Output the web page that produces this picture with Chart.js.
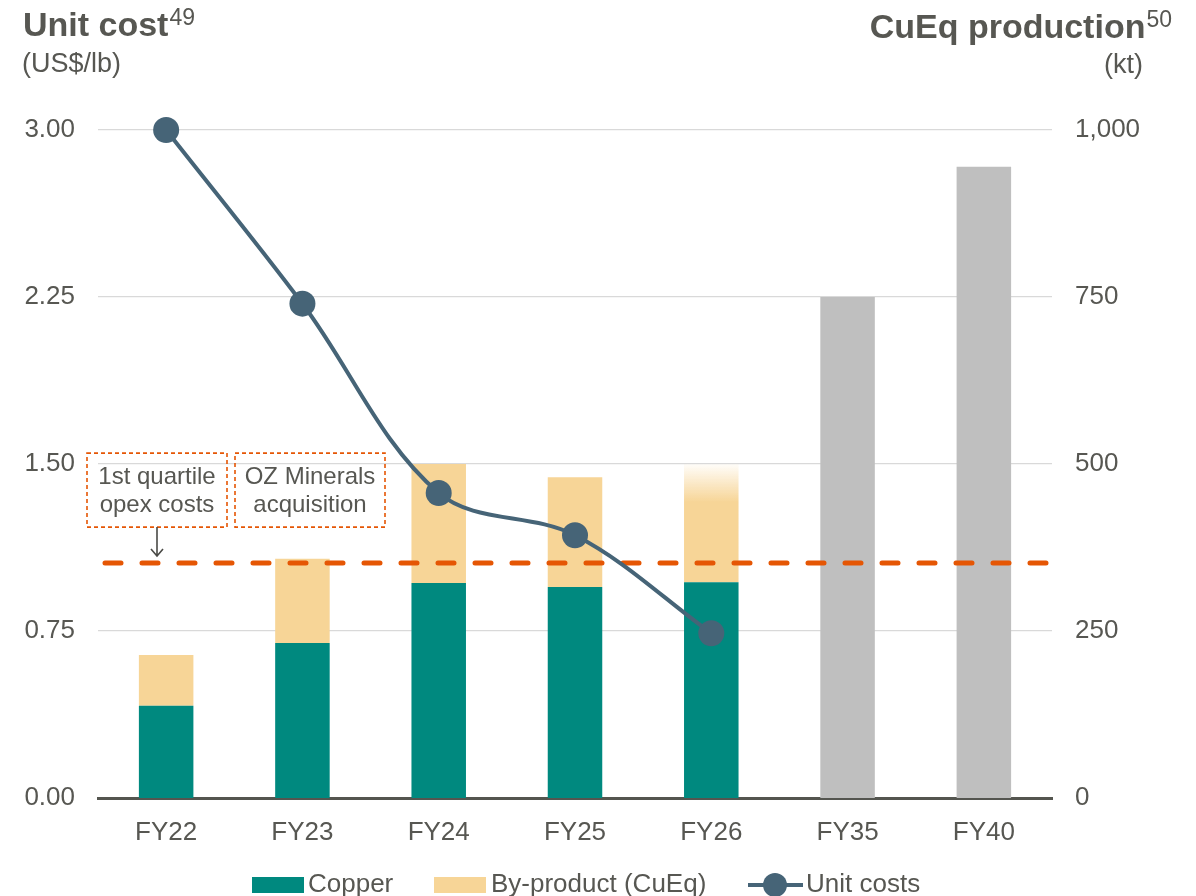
<!DOCTYPE html>
<html>
<head>
<meta charset="utf-8">
<script src="https://cdn.jsdelivr.net/npm/chart.js@4.4.1/dist/chart.umd.min.js"></script>
<style>
  html, body { margin: 0; padding: 0; background: #ffffff; }
  #wrap { width: 1196px; height: 896px; position: relative; }
</style>
</head>
<body>
<div id="wrap"><canvas id="costChart"></canvas></div>
<script>
// Chart data
const categories = ["FY22", "FY23", "FY24", "FY25", "FY26", "FY35", "FY40"];
const copperKt = [138, 232, 322, 316, 323, null, null];      // right axis, kt
const byproductKt = [76, 126, 178, 164, 177, null, null];    // right axis, kt (CuEq)
const outlookKt = [null, null, null, null, null, 750, 945];  // grey outlook bars
const unitCost = [3.00, 2.22, 1.37, 1.18, 0.74, null, null]; // left axis, US$/lb
const opexQuartile = 1.055;                                  // dashed reference, US$/lb
const costTicks = [0, 0.75, 1.5, 2.25, 3.0];
const prodTicks = [0, 250, 500, 750, 1000];

// Colours and fonts
const FONT = "'Liberation Sans', Arial, sans-serif";
const TEXT = "#575752";
const TEAL = "#00897f";
const TAN = "#f7d597";
const GREY = "#bfbfbf";
const SLATE = "#466477";
const ORANGE = "#e55604";

// Fade out the top of the FY26 by-product bar
function byproductColor(ctx) {
    const chart = ctx.chart;
    if (ctx.dataIndex !== 4 || !chart.chartArea) return TAN;
    const scale = chart.scales.y1;
    const top = scale.getPixelForValue(copperKt[4] + byproductKt[4]);
    const g = chart.ctx.createLinearGradient(0, top, 0, top + 38);
    g.addColorStop(0, "rgba(247,213,151,0.05)");
    g.addColorStop(1, "rgba(247,213,151,1)");
    return g;
}

// Dashed quartile line + annotation boxes, drawn between bars and the unit cost line
const opexLinePlugin = {
    id: "opexLine",
    beforeDatasetDraw(chart, args) {
        if (args.index !== 0) return;
        const { ctx, chartArea } = chart;
        const y = chart.scales.y.getPixelForValue(opexQuartile);
        ctx.save();
        ctx.strokeStyle = ORANGE;
        ctx.lineWidth = 5;
        ctx.lineCap = "round";
        ctx.setLineDash([16, 21]);
        ctx.beginPath();
        ctx.moveTo(chartArea.left + 7, y);
        ctx.lineTo(chartArea.right + 5, y);
        ctx.stroke();

        // annotation boxes
        const boxes = [
            { x: 87, w: 140, lines: ["1st quartile", "opex costs"] },
            { x: 235, w: 150, lines: ["OZ Minerals", "acquisition"] }
        ];
        const boxTop = y - 110, boxH = 74;
        ctx.lineWidth = 1.6;
        ctx.lineCap = "butt";
        ctx.setLineDash([4, 3]);
        ctx.font = "24px " + FONT;
        ctx.textAlign = "center";
        ctx.textBaseline = "middle";
        boxes.forEach(b => {
            ctx.strokeStyle = ORANGE;
            ctx.strokeRect(b.x, boxTop, b.w, boxH);
            ctx.fillStyle = TEXT;
            ctx.fillText(b.lines[0], b.x + b.w / 2, boxTop + 24);
            ctx.fillText(b.lines[1], b.x + b.w / 2, boxTop + 52);
        });

        // arrow from first box down to the line
        ctx.setLineDash([]);
        ctx.strokeStyle = "#4a4a46";
        ctx.lineWidth = 1.6;
        const ax = 157;
        ctx.beginPath();
        ctx.moveTo(ax, boxTop + boxH);
        ctx.lineTo(ax, y - 7);
        ctx.moveTo(ax - 6, y - 14);
        ctx.lineTo(ax, y - 7);
        ctx.lineTo(ax + 6, y - 14);
        ctx.stroke();
        ctx.restore();
    }
};

// Axis titles and bottom legend
const titlesPlugin = {
    id: "titles",
    afterDraw(chart) {
        const ctx = chart.ctx;
        ctx.save();
        ctx.fillStyle = TEXT;
        ctx.textBaseline = "alphabetic";

        // left title
        ctx.textAlign = "left";
        ctx.font = "bold 34px " + FONT;
        ctx.fillText("Unit cost", 23, 36);
        const lw = ctx.measureText("Unit cost").width;
        ctx.font = "23px " + FONT;
        ctx.fillText("49", 23 + lw + 1, 25);
        ctx.font = "27px " + FONT;
        ctx.fillText("(US$/lb)", 22, 72);

        // right title
        ctx.font = "23px " + FONT;
        const sw = ctx.measureText("50").width;
        ctx.textAlign = "right";
        ctx.fillText("50", 1172, 27);
        ctx.font = "bold 34px " + FONT;
        ctx.fillText("CuEq production", 1172 - sw - 1, 38);
        ctx.font = "27px " + FONT;
        ctx.fillText("(kt)", 1143, 73);

        // legend
        const ly = 885;
        ctx.font = "26px " + FONT;
        ctx.textAlign = "left";
        ctx.textBaseline = "middle";
        ctx.fillStyle = TEAL;
        ctx.fillRect(252, ly - 8, 52, 16);
        ctx.fillStyle = TEXT;
        ctx.fillText("Copper", 308, ly);
        ctx.fillStyle = TAN;
        ctx.fillRect(434, ly - 8, 52, 16);
        ctx.fillStyle = TEXT;
        ctx.fillText("By-product (CuEq)", 491, ly);
        ctx.strokeStyle = SLATE;
        ctx.lineWidth = 4;
        ctx.beginPath();
        ctx.moveTo(748, ly);
        ctx.lineTo(803, ly);
        ctx.stroke();
        ctx.fillStyle = SLATE;
        ctx.beginPath();
        ctx.arc(775, ly, 12, 0, Math.PI * 2);
        ctx.fill();
        ctx.fillStyle = TEXT;
        ctx.fillText("Unit costs", 806, ly);
        ctx.restore();
    }
};

const chart = new Chart(document.getElementById("costChart"), {
    type: "bar",
    data: {
        labels: categories,
        datasets: [
            {
                type: "line",
                label: "Unit costs",
                data: unitCost,
                yAxisID: "y",
                clip: false,
                borderColor: SLATE,
                borderWidth: 4,
                tension: 0.35,
                pointRadius: 13,
                pointBackgroundColor: SLATE,
                pointBorderWidth: 0,
                pointHoverRadius: 13
            },
            {
                label: "Copper",
                data: copperKt,
                yAxisID: "y1",
                backgroundColor: TEAL,
                barPercentage: 0.4,
                categoryPercentage: 1
            },
            {
                label: "By-product (CuEq)",
                data: byproductKt,
                yAxisID: "y1",
                backgroundColor: byproductColor,
                barPercentage: 0.4,
                categoryPercentage: 1
            },
            {
                label: "Outlook",
                data: outlookKt,
                yAxisID: "y1",
                backgroundColor: GREY,
                barPercentage: 0.4,
                categoryPercentage: 1
            }
        ]
    },
    options: {
        responsive: true,
        maintainAspectRatio: false,
        animation: false,
        layout: { padding: { top: 130 } },
        plugins: {
            legend: { display: false },
            tooltip: { enabled: false }
        },
        scales: {
            x: {
                stacked: true,
                grid: { display: false },
                border: { color: "#54554f", width: 3 },
                ticks: { color: TEXT, font: { family: FONT, size: 26 }, padding: 11 },
                afterFit(scale) { scale.height = 98; }
            },
            y: {
                position: "left",
                min: 0,
                max: 3,
                afterBuildTicks(scale) { scale.ticks = costTicks.map(v => ({ value: v })); },
                grid: { color: "#d9d9d9", lineWidth: 1.3, drawTicks: false },
                border: { display: false },
                ticks: {
                    color: TEXT,
                    font: { family: FONT, size: 26 },
                    padding: 23,
                    callback: v => v.toFixed(2)
                },
                afterFit(scale) { scale.width = 98; }
            },
            y1: {
                position: "right",
                stacked: true,
                min: 0,
                max: 1000,
                afterBuildTicks(scale) { scale.ticks = prodTicks.map(v => ({ value: v })); },
                grid: { display: false, drawTicks: false },
                border: { display: false },
                ticks: {
                    color: TEXT,
                    font: { family: FONT, size: 26 },
                    padding: 23,
                    callback: v => v.toLocaleString("en-US")
                },
                afterFit(scale) { scale.width = 144; }
            }
        }
    },
    plugins: [opexLinePlugin, titlesPlugin]
});
</script>
</body>
</html>
